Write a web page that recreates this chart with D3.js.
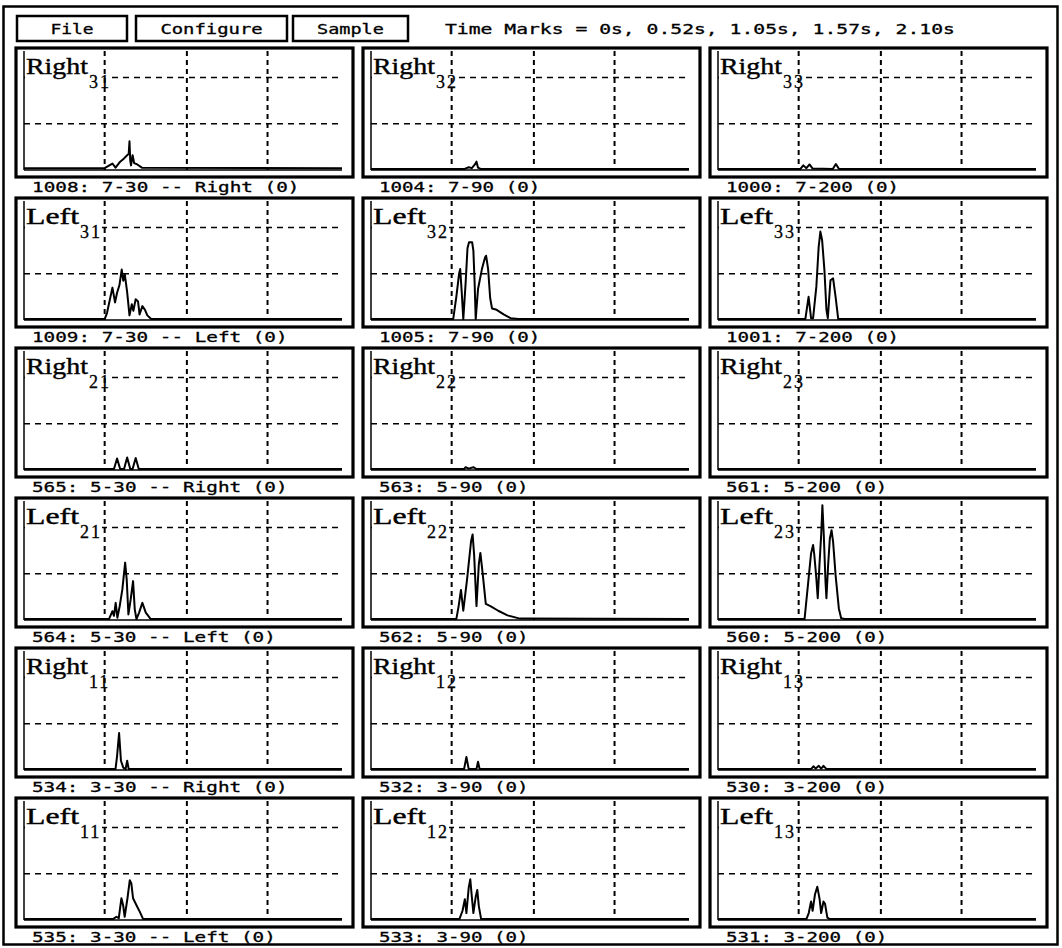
<!DOCTYPE html>
<html>
<head>
<meta charset="utf-8">
<script src="https://cdnjs.cloudflare.com/ajax/libs/d3/7.8.5/d3.min.js"></script>
<style>
  body { margin: 0; background: #fff; }
  svg { display: block; }
</style>
</head>
<body>
<div id="chart"></div>
<script>
const WIDTH = 1062;
const HEIGHT = 948;
const MONO = '"DejaVu Sans Mono", "Liberation Mono", monospace';
const SERIF = '"Liberation Serif", "DejaVu Serif", serif';

// data
const timeMarks = [0, 0.52, 1.05, 1.57, 2.10];
const levelMarks = [1, 2];
const menuItems = ['File', 'Configure', 'Sample'];
const rowSides = ['Right', 'Left', 'Right', 'Left', 'Right', 'Left'];
const rowSubs = ['3', '3', '2', '2', '1', '1'];
const colSubs = ['1', '2', '3'];
const captions = [
    ['1008: 7-30 -- Right (0)', '1004: 7-90 (0)', '1000: 7-200 (0)'],
    ['1009: 7-30 -- Left (0)', '1005: 7-90 (0)', '1001: 7-200 (0)'],
    ['565: 5-30 -- Right (0)', '563: 5-90 (0)', '561: 5-200 (0)'],
    ['564: 5-30 -- Left (0)', '562: 5-90 (0)', '560: 5-200 (0)'],
    ['534: 3-30 -- Right (0)', '532: 3-90 (0)', '530: 3-200 (0)'],
    ['535: 3-30 -- Left (0)', '533: 3-90 (0)', '531: 3-200 (0)']
];

// traces: [time s, level]
const right31 = [[0, .04], [.52, .04], [.55, .1], [.57, .14], [.59, .05], [.62, .18], [.645, .25], [.665, .32], [.675, .35], [.68, .62], [.685, .2], [.69, .1], [.70, .32], [.71, .15], [.73, .12], [.76, .05], [2.05, .04]];
const right32 = [[0, .02], [.60, .02], [.63, .06], [.65, .04], [.67, .12], [.68, .18], [.69, .05], [.71, .02], [2.05, .02]];
const right33 = [[0, .02], [.53, .02], [.55, .1], [.57, .04], [.59, .12], [.61, .03], [.74, .02], [.76, .13], [.78, .02], [2.05, .02]];
const left31 = [[0, .02], [.52, .02], [.535, .15], [.57, .70], [.587, .38], [.60, .59], [.615, .75], [.63, 1.09], [.64, .85], [.65, .98], [.665, .6], [.68, .1], [.695, .34], [.705, .2], [.72, .45], [.735, .4], [.745, .12], [.763, .30], [.78, .22], [.795, .1], [.82, .02], [2.05, .02]];
const left32 = [[0, .02], [.53, .02], [.55, .5], [.568, 1.0], [.575, 1.1], [.585, .6], [.595, .02], [.61, .8], [.622, 1.55], [.632, 1.68], [.652, 1.68], [.66, 1.5], [.668, .8], [.675, .02], [.69, .67], [.715, 1.1], [.735, 1.35], [.742, 1.39], [.755, 1.1], [.768, .48], [.78, .25], [.81, .22], [.855, .12], [.90, .04], [.95, .02], [2.05, .02]];
const left33 = [[0, .02], [.563, .02], [.584, .50], [.60, .04], [.613, .04], [.634, .72], [.649, 1.58], [.66, 1.91], [.671, 1.73], [.686, 1.08], [.699, .22], [.708, .04], [.725, .86], [.742, .90], [.758, .50], [.775, .02], [2.05, .02]];
const right21 = [[0, .02], [.58, .02], [.60, .25], [.62, .02], [.645, .02], [.665, .27], [.685, .02], [.70, .02], [.72, .26], [.74, .02], [2.05, .02]];
const right22 = [[0, .02], [.60, .02], [.61, .06], [.63, .03], [.66, .06], [.68, .02], [2.05, .02]];
const right23 = [[0, .02], [2.05, .02]];
const left21 = [[0, .02], [.548, .02], [.57, .19], [.58, .09], [.591, .37], [.602, .05], [.617, .30], [.634, .66], [.652, 1.24], [.662, .88], [.673, .12], [.688, .45], [.703, .84], [.714, .23], [.725, .02], [.742, .16], [.763, .37], [.785, .16], [.817, .02], [2.05, .02]];
const left22 = [[0, .02], [.55, .02], [.565, .3], [.58, .65], [.595, .2], [.62, .9], [.645, 1.7], [.655, 1.85], [.665, 1.4], [.68, .3], [.695, 1.2], [.705, 1.45], [.72, 1.0], [.74, .35], [.77, .3], [.82, .2], [.88, .1], [.96, .03], [2.05, .02]];
const left23 = [[0, .02], [.558, .02], [.584, .9], [.60, 1.44], [.613, 1.62], [.621, 1.40], [.634, .9], [.643, .47], [.654, 1.19], [.665, 1.83], [.673, 2.48], [.682, 1.83], [.693, .83], [.699, .47], [.71, 1.19], [.721, 1.76], [.732, 1.94], [.742, 1.69], [.758, .97], [.779, .25], [.794, .04], [.816, .02], [2.05, .02]];
const right11 = [[0, .02], [.59, .02], [.60, .3], [.613, .8], [.625, .2], [.64, .05], [.655, .02], [.665, .2], [.675, .02], [2.05, .02]];
const right12 = [[0, .02], [.60, .02], [.615, .28], [.63, .02], [.68, .02], [.69, .18], [.70, .02], [2.05, .02]];
const right13 = [[0, .02], [.60, .02], [.615, .08], [.63, .03], [.65, .09], [.665, .03], [.68, .09], [.70, .02], [2.05, .02]];
const left11 = [[0, .02], [.574, .02], [.596, .07], [.611, .04], [.628, .47], [.639, .32], [.649, .07], [.667, .47], [.682, .86], [.692, .79], [.703, .47], [.725, .32], [.746, .18], [.768, .02], [2.05, .02]];
const left12 = [[0, .02], [.57, .02], [.59, .2], [.605, .45], [.615, .15], [.63, .7], [.64, .88], [.65, .5], [.66, .15], [.675, .5], [.685, .65], [.695, .3], [.71, .02], [2.05, .02]];
const left13 = [[0, .02], [.57, .02], [.585, .15], [.60, .4], [.61, .2], [.625, .55], [.64, .72], [.655, .45], [.665, .15], [.68, .4], [.69, .35], [.705, .05], [.72, .02], [2.05, .02]];

const traces = [
    [right31, right32, right33],
    [left31, left32, left33],
    [right21, right22, right23],
    [left21, left22, left23],
    [right11, right12, right13],
    [left11, left12, left13]
];

// layout
const MENU_BOXES = [{ x: 17, w: 110 }, { x: 136, w: 151 }, { x: 293, w: 115 }];
const CHAR_W = 11.8;

let svg = d3.select('#chart')
    .append('svg')
    .attr('width', WIDTH)
    .attr('height', HEIGHT);

svg.append('rect').attr('width', WIDTH).attr('height', HEIGHT).attr('fill', '#fff');

// outer frame
svg.append('rect')
    .attr('x', 3.5).attr('y', 6.5)
    .attr('width', 1054).attr('height', 938)
    .attr('fill', 'none').attr('stroke', '#000').attr('stroke-width', 2.5);

// 1. menu bar
let menu = svg.selectAll('g.menu')
    .data(menuItems)
    .enter()
    .append('g')
    .attr('class', 'menu');

menu.append('rect')
    .attr('x', (d, i) => MENU_BOXES[i].x)
    .attr('y', 16)
    .attr('width', (d, i) => MENU_BOXES[i].w)
    .attr('height', 25)
    .attr('fill', 'none')
    .attr('stroke', '#000')
    .attr('stroke-width', 2.5);

menu.append('text')
    .attr('x', (d, i) => MENU_BOXES[i].x + MENU_BOXES[i].w / 2)
    .attr('y', 33.5)
    .attr('text-anchor', 'middle')
    .attr('font-family', MONO)
    .attr('font-size', 14)
    .attr('stroke', '#000')
    .attr('stroke-width', 0.3)
    .attr('textLength', d => d.length * CHAR_W - 4)
    .attr('lengthAdjust', 'spacingAndGlyphs')
    .text(d => d);

let marksText = 'Time Marks = ' + timeMarks.map(t => (t === 0 ? '0' : t.toFixed(2)) + 's').join(', ');
svg.append('text')
    .attr('x', 445)
    .attr('y', 33.5)
    .attr('font-family', MONO)
    .attr('font-size', 14)
    .attr('stroke', '#000')
    .attr('stroke-width', 0.3)
    .attr('textLength', marksText.length * 11.95 - 4)
    .attr('lengthAdjust', 'spacingAndGlyphs')
    .text(marksText);

// 2. panels
let colScale = d3.scaleBand().domain(d3.range(3)).range([16, 1047]).paddingInner(10 / 347);
let rowScale = d3.scaleBand().domain(d3.range(6)).range([48, 927]).paddingInner(21 / 150);
let PW = colScale.bandwidth();
let PH = rowScale.bandwidth();

let xScale = d3.scaleLinear().domain([0, 2.05]).range([8, PW - 11]);
let yScale = d3.scaleLinear().domain([0, 2.55]).range([122, 4]);

let line = d3.line()
    .x(d => xScale(d[0]))
    .y(d => yScale(d[1]));

let panels = [];
traces.forEach((row, r) => row.forEach((tr, c) => panels.push({ r, c, tr })));

let panel = svg.selectAll('g.panel')
    .data(panels)
    .enter()
    .append('g')
    .attr('class', 'panel')
    .attr('transform', d => `translate(${colScale(d.c)}, ${rowScale(d.r)})`);

// horizontal grid
panel.each(function () {
    d3.select(this).selectAll('line.hgrid')
        .data(levelMarks)
        .enter()
        .append('line')
        .attr('class', 'hgrid')
        .attr('x1', xScale(0)).attr('x2', xScale.range()[1])
        .attr('y1', d => yScale(d)).attr('y2', d => yScale(d))
        .attr('stroke', '#000')
        .attr('stroke-width', 1.5)
        .attr('stroke-dasharray', '6,5');
});

// title background
let titleLen = d => (rowSides[d.r] === 'Right' ? 62 : 53);
panel.append('rect')
    .attr('x', xScale(0) + 1)
    .attr('y', 4)
    .attr('width', d => titleLen(d) + 24)
    .attr('height', 38)
    .attr('fill', '#fff');

// vertical grid
panel.each(function () {
    d3.select(this).selectAll('line.vgrid')
        .data(timeMarks.filter(t => t > 0 && t < xScale.domain()[1]))
        .enter()
        .append('line')
        .attr('class', 'vgrid')
        .attr('x1', d => xScale(d)).attr('x2', d => xScale(d))
        .attr('y1', 3).attr('y2', yScale(0))
        .attr('stroke', '#000')
        .attr('stroke-width', 2)
        .attr('stroke-dasharray', '5,4');
});

// axis lines
panel.append('line')
    .attr('x1', xScale(0)).attr('x2', xScale(0))
    .attr('y1', 3).attr('y2', yScale(0))
    .attr('stroke', '#000').attr('stroke-width', 1.5);

panel.append('line')
    .attr('x1', xScale(0)).attr('x2', xScale.range()[1])
    .attr('y1', yScale(0)).attr('y2', yScale(0))
    .attr('stroke', '#000').attr('stroke-width', 1.6);

// traces
panel.append('path')
    .attr('d', d => line(d.tr))
    .attr('fill', 'none')
    .attr('stroke', '#000')
    .attr('stroke-width', 2)
    .attr('stroke-linejoin', 'round');

// box
panel.append('rect')
    .attr('x', 0).attr('y', 0)
    .attr('width', PW).attr('height', PH)
    .attr('fill', 'none')
    .attr('stroke', '#000')
    .attr('stroke-width', 3.2);

// titles
panel.append('text')
    .attr('x', xScale(0) + 2)
    .attr('y', 26)
    .attr('font-family', SERIF)
    .attr('font-size', 24)
    .attr('stroke', '#000')
    .attr('stroke-width', 0.4)
    .attr('textLength', d => titleLen(d))
    .attr('lengthAdjust', 'spacingAndGlyphs')
    .text(d => rowSides[d.r]);

panel.append('text')
    .attr('x', d => xScale(0) + 3 + titleLen(d))
    .attr('y', 40)
    .attr('font-family', SERIF)
    .attr('font-size', 18)
    .attr('stroke', '#000')
    .attr('stroke-width', 0.3)
    .attr('letter-spacing', 2)
    .text(d => rowSubs[d.r] + colSubs[d.c]);

// captions
panel.append('text')
    .attr('x', 16)
    .attr('y', PH + 14.5)
    .attr('font-family', MONO)
    .attr('font-size', 14)
    .attr('stroke', '#000')
    .attr('stroke-width', 0.3)
    .attr('textLength', d => captions[d.r][d.c].length * CHAR_W - 4)
    .attr('lengthAdjust', 'spacingAndGlyphs')
    .text(d => captions[d.r][d.c]);
</script>
</body>
</html>
